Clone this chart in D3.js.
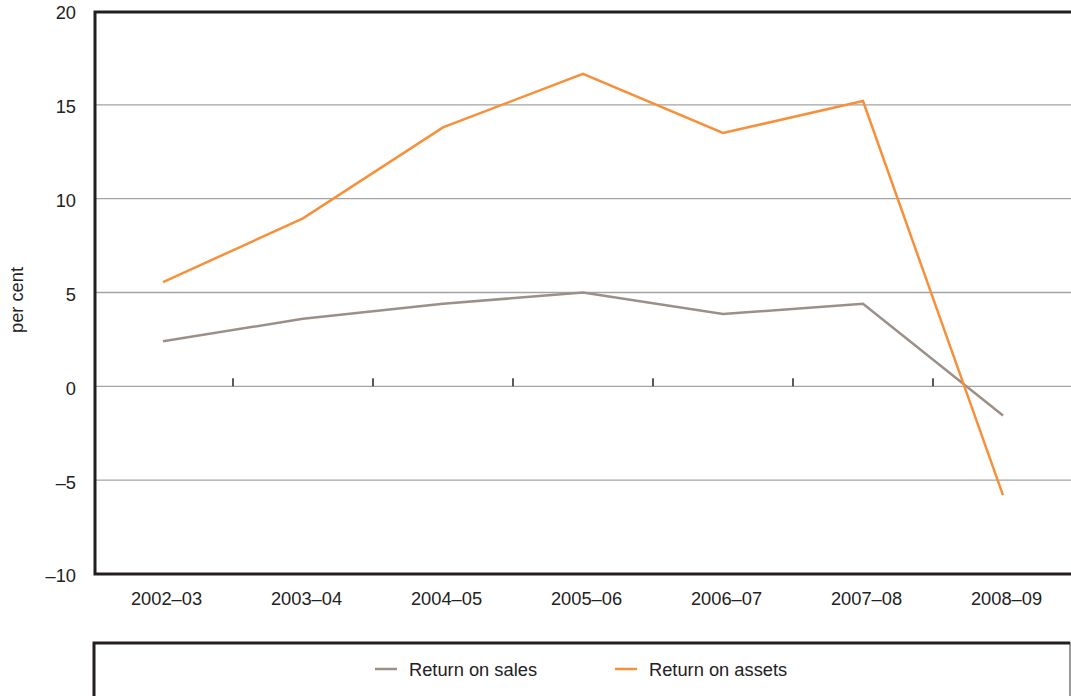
<!DOCTYPE html>
<html>
<head>
<meta charset="utf-8">
<script src="https://cdn.jsdelivr.net/npm/d3@7/dist/d3.min.js"></script>
<style>
  body { margin: 0; background: #fff; }
  svg { display: block; font-family: "Liberation Sans", Arial, sans-serif; }
</style>
</head>
<body>
<svg id="chart" width="1071" height="696"></svg>
<script>
const categories = ["2002–03", "2003–04", "2004–05", "2005–06", "2006–07", "2007–08", "2008–09"];
const returnOnSales = [2.4, 3.6, 4.4, 5.0, 3.85, 4.4, -1.55];
const returnOnAssets = [5.55, 8.95, 13.8, 16.65, 13.5, 15.2, -5.8];
const yTicks = [-10, -5, 0, 5, 10, 15, 20];
const seriesNames = ["Return on sales", "Return on assets"];
const seriesColors = ["#9b9087", "#f7903a"];

const svg = d3.select("#chart");
const plotLeft = 95, plotRight = 1071, plotTop = 12, plotBottom = 574;
const FS = 18.3;

const x = d3.scalePoint().domain(categories).range([163, 1003]);
const step = x.step();
const y = d3.scaleLinear().domain([-10, 20]).range([plotBottom, plotTop - 1]);

// gridlines
svg.append("g").selectAll("line").data(yTicks.filter(t => t > -10 && t < 20)).join("line")
  .attr("x1", plotLeft).attr("x2", plotRight)
  .attr("y1", d => y(d)).attr("y2", d => y(d))
  .attr("stroke", "#a3a3a3").attr("stroke-width", 1.3);

// category tick marks on zero line
svg.append("g").selectAll("line").data(categories.slice(0, -1)).join("line")
  .attr("x1", d => x(d) + step / 2).attr("x2", d => x(d) + step / 2)
  .attr("y1", y(0) - 8).attr("y2", y(0))
  .attr("stroke", "#222").attr("stroke-width", 1.5);

// y axis labels
const yAxis = d3.axisLeft(y).tickValues(yTicks).tickSize(0).tickPadding(19)
  .tickFormat(d => d < 0 ? "\u2013" + Math.abs(d) : d);
const gy = svg.append("g").attr("transform", `translate(${plotLeft},2)`).call(yAxis);
gy.select(".domain").remove();
gy.selectAll("text").attr("font-size", FS).attr("fill", "#222").attr("font-family", "Liberation Sans, Arial, sans-serif");

// x axis labels
const xAxis = d3.axisBottom(x).tickSize(0).tickPadding(18);
const gx = svg.append("g").attr("transform", `translate(3,${plotBottom})`).call(xAxis);
gx.select(".domain").remove();
gx.selectAll("text").attr("font-size", FS).attr("fill", "#222").attr("font-family", "Liberation Sans, Arial, sans-serif");

// lines
const line = d3.line().x((d, i) => x(categories[i])).y(d => y(d));
[returnOnSales, returnOnAssets].forEach((s, i) => {
  svg.append("path").datum(s).attr("d", line)
    .attr("fill", "none").attr("stroke", seriesColors[i]).attr("stroke-width", 2.5)
    .attr("stroke-linejoin", "miter");
});

// plot frame (left, top, bottom)
svg.append("path")
  .attr("d", `M${plotRight},${plotTop}H${plotLeft}V${plotBottom}H${plotRight}`)
  .attr("fill", "none").attr("stroke", "#231f20").attr("stroke-width", 3);

// y label
svg.append("text").attr("transform", `translate(23,300) rotate(-90)`)
  .attr("text-anchor", "middle").attr("font-size", FS).attr("fill", "#222").text("per cent");

// legend box
svg.append("path").attr("d", `M1070,642V700`).attr("stroke", "#777").attr("stroke-width", 1.5).attr("fill", "none");
svg.append("path").attr("d", `M1070,643H94V700`).attr("stroke", "#231f20").attr("stroke-width", 3).attr("fill", "none");

const legendX = [375, 615];
seriesNames.forEach((n, i) => {
  svg.append("line").attr("x1", legendX[i]).attr("x2", legendX[i] + 22)
    .attr("y1", 669).attr("y2", 669).attr("stroke", seriesColors[i]).attr("stroke-width", 2.5);
  svg.append("text").attr("x", legendX[i] + 34).attr("y", 676)
    .attr("font-size", FS).attr("fill", "#222").text(n);
});
</script>
</body>
</html>
